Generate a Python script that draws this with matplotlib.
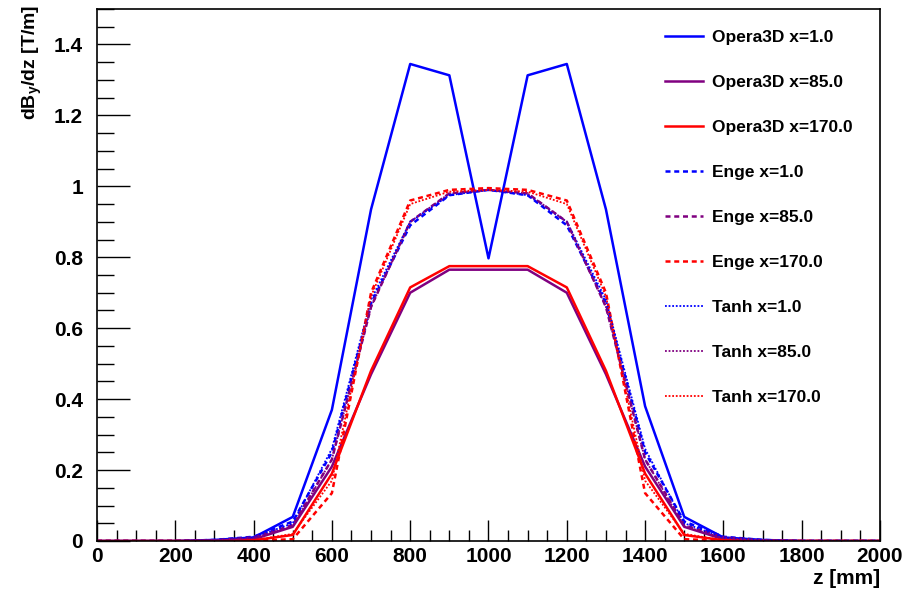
import matplotlib
matplotlib.use("Agg")
import matplotlib.pyplot as plt
from matplotlib.ticker import MultipleLocator

plt.rcParams["font.family"] = ["Liberation Sans", "DejaVu Sans"]
plt.rcParams["font.weight"] = "bold"
plt.rcParams["mathtext.fontset"] = "custom"
plt.rcParams["mathtext.rm"] = "Liberation Sans:bold"
plt.rcParams["mathtext.it"] = "Liberation Sans:bold"
plt.rcParams["mathtext.bf"] = "Liberation Sans:bold"

# z positions [mm]
z = [0, 100, 200, 300, 400, 500, 600, 700, 800, 900, 1000,
     1100, 1200, 1300, 1400, 1500, 1600, 1700, 1800, 1900, 2000]

# Opera3D field gradient
opera_x1 = [0, 0, 0, 0.003, 0.01, 0.068, 0.37, 0.935, 1.345, 1.313, 0.797,
            1.313, 1.345, 0.935, 0.38, 0.068, 0.01, 0.003, 0, 0, 0]
opera_x85 = [0, 0, 0, 0.001, 0.005, 0.04, 0.21, 0.47, 0.70, 0.765, 0.765,
             0.765, 0.70, 0.47, 0.21, 0.04, 0.005, 0.001, 0, 0, 0]
opera_x170 = [0, 0, 0, 0, 0.002, 0.017, 0.19, 0.48, 0.715, 0.775, 0.775,
              0.775, 0.715, 0.48, 0.19, 0.017, 0.002, 0, 0, 0, 0]

# Enge fit
enge_x1 = [0, 0, 0, 0.003, 0.012, 0.055, 0.25, 0.67, 0.89, 0.975, 0.99,
           0.975, 0.89, 0.67, 0.25, 0.055, 0.012, 0.003, 0, 0, 0]
enge_x85 = [0, 0, 0, 0.002, 0.01, 0.045, 0.23, 0.66, 0.90, 0.98, 0.99,
            0.98, 0.90, 0.66, 0.23, 0.045, 0.01, 0.002, 0, 0, 0]
enge_x170 = [0, 0, 0, 0, 0.001, 0.005, 0.135, 0.70, 0.96, 0.99, 0.995,
             0.99, 0.96, 0.70, 0.135, 0.005, 0.001, 0, 0, 0, 0]

# Tanh fit
tanh_x1 = [0, 0, 0, 0.002, 0.01, 0.05, 0.26, 0.68, 0.90, 0.975, 0.99,
           0.975, 0.90, 0.68, 0.26, 0.05, 0.01, 0.002, 0, 0, 0]
tanh_x85 = [0, 0, 0, 0.002, 0.008, 0.042, 0.23, 0.66, 0.90, 0.98, 0.99,
            0.98, 0.90, 0.66, 0.23, 0.042, 0.008, 0.002, 0, 0, 0]
tanh_x170 = [0, 0, 0, 0, 0.002, 0.02, 0.17, 0.69, 0.95, 0.985, 0.99,
             0.985, 0.95, 0.69, 0.17, 0.02, 0.002, 0, 0, 0, 0]

blue = "#0000ff"
purple = "#800080"
red = "#ff0000"

fig = plt.figure(figsize=(9.12, 5.94), dpi=100)
ax = fig.add_axes([97 / 912, 1 - 541 / 594, 783 / 912, 532 / 594])

lw = 1.8
ax.plot(z, opera_x1, color=blue, lw=lw, label="Opera3D x=1.0")
ax.plot(z, opera_x85, color=purple, lw=lw, label="Opera3D x=85.0")
ax.plot(z, opera_x170, color=red, lw=lw, label="Opera3D x=170.0")
ax.plot(z, enge_x1, color=blue, lw=lw, ls=(0, (2, 1.5)), label="Enge x=1.0")
ax.plot(z, enge_x85, color=purple, lw=lw, ls=(0, (2, 1.5)), label="Enge x=85.0")
ax.plot(z, enge_x170, color=red, lw=lw, ls=(0, (2, 1.5)), label="Enge x=170.0")
ax.plot(z, tanh_x1, color=blue, lw=1.3, ls=(0, (1, 1)), label="Tanh x=1.0")
ax.plot(z, tanh_x85, color=purple, lw=1.3, ls=(0, (1, 1)), label="Tanh x=85.0")
ax.plot(z, tanh_x170, color=red, lw=1.3, ls=(0, (1, 1)), label="Tanh x=170.0")

ax.set_xlim(0, 2000)
ax.set_ylim(0, 1.5)
ax.xaxis.set_major_locator(MultipleLocator(200))
ax.xaxis.set_minor_locator(MultipleLocator(50))
ax.yaxis.set_major_locator(MultipleLocator(0.2))
ax.yaxis.set_minor_locator(MultipleLocator(0.05))
ax.set_yticks([0, 0.2, 0.4, 0.6, 0.8, 1.0, 1.2, 1.4])
ax.set_yticklabels(["0", "0.2", "0.4", "0.6", "0.8", "1", "1.2", "1.4"])
ax.tick_params(which="both", direction="in", labelsize=15, width=1.0)
ax.tick_params(axis="y", which="major", length=24, pad=10)
ax.tick_params(axis="y", which="minor", length=12)
ax.tick_params(axis="x", which="major", length=15, pad=4)
ax.tick_params(axis="x", which="minor", length=8)
for s in ax.spines.values():
    s.set_linewidth(1.2)

fig.text(32 / 912, 1 - 5 / 594, r"dB$_y$/dz [T/m]", rotation=90,
         ha="center", va="top", fontsize=14, fontweight="bold")
fig.text(880 / 912, 1 - 579 / 594, "z [mm]", ha="right", va="center",
         fontsize=15, fontweight="bold")

ax.legend(loc="upper left", bbox_to_anchor=(665 / 912, 1 - 30 / 594),
          bbox_transform=fig.transFigure, frameon=False, fontsize=12.5,
          handlelength=2.2, handletextpad=0.5, labelspacing=1.72,
          borderaxespad=0, borderpad=0)

fig.savefig("out.png", dpi=100)
